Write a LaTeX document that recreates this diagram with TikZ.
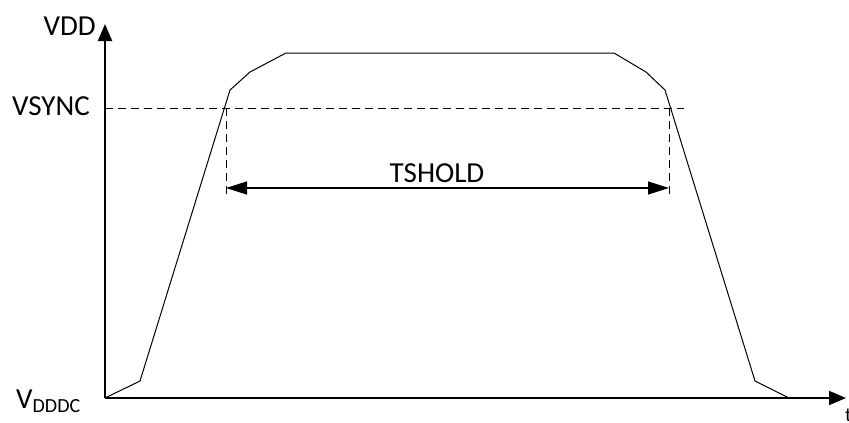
\documentclass[tikz,border=0pt]{standalone}
\usepackage{fontspec}
\setmainfont{Carlito}
\usetikzlibrary{arrows.meta}
\tikzset{
  axis/.style={line width=2pt,-{Triangle[length=17pt,width=14pt]}},
  sig/.style={line width=1pt},
  guide/.style={line width=0.9pt,dash pattern=on 8pt off 5pt},
  dim/.style={line width=1.2pt,{Triangle[length=21pt,width=13pt]}-{Triangle[length=21pt,width=13pt]}},
  lbl/.style={inner sep=0pt,font=\fontsize{29}{31}\selectfont}
}
\begin{document}
\begin{tikzpicture}[x=1pt,y=-1pt]
\useasboundingbox (0,0) rectangle (849,423);
% axes
\coordinate (O) at (105,398);
\coordinate (ytop) at (105,24);
\coordinate (xend) at (846,398);
\draw[axis] (O) -- (ytop);
\draw[axis] (O) -- (xend);
% signal
\coordinate (p1) at (140,381);
\coordinate (p2) at (230,90);
\coordinate (p3) at (250,72);
\coordinate (p4) at (286,53);
\coordinate (p5) at (614,53);
\coordinate (p6) at (646,72);
\coordinate (p7) at (665,90);
\coordinate (p8) at (755,381);
\coordinate (p9) at (789,398);
\draw[sig,line join=round] (O) -- (p1) -- (p2) -- (p3) -- (p4) -- (p5) -- (p6) -- (p7) -- (p8) -- (p9);
% guides
\coordinate (vs0) at (105,108);
\coordinate (vs1) at (684,108);
\draw[guide] (vs0) -- (vs1);
\coordinate (la) at (226,108);
\coordinate (lb) at (226,199);
\coordinate (ra) at (669,108);
\coordinate (rb) at (669,199);
\draw[guide] (la) -- (lb);
\draw[guide] (ra) -- (rb);
% dimension
\coordinate (da) at (226,188);
\coordinate (db) at (669,188);
\draw[dim] (da) -- (db);
% labels
\node[lbl,anchor=base east] (vdd) at (96,35) {VDD};
\node[lbl,anchor=base east] (vsync) at (90,115) {VSYNC};
\node[lbl,anchor=base] (tshold) at (437,182) {TSHOLD};
\node[lbl,anchor=base west] (vdddc) at (16,408) {V\raisebox{-4pt}{\fontsize{20}{21}\selectfont DDDC}};
\node[inner sep=0pt,anchor=base west,font=\fontsize{20}{22}\selectfont] (t) at (845,421) {t};
\end{tikzpicture}
\end{document}
